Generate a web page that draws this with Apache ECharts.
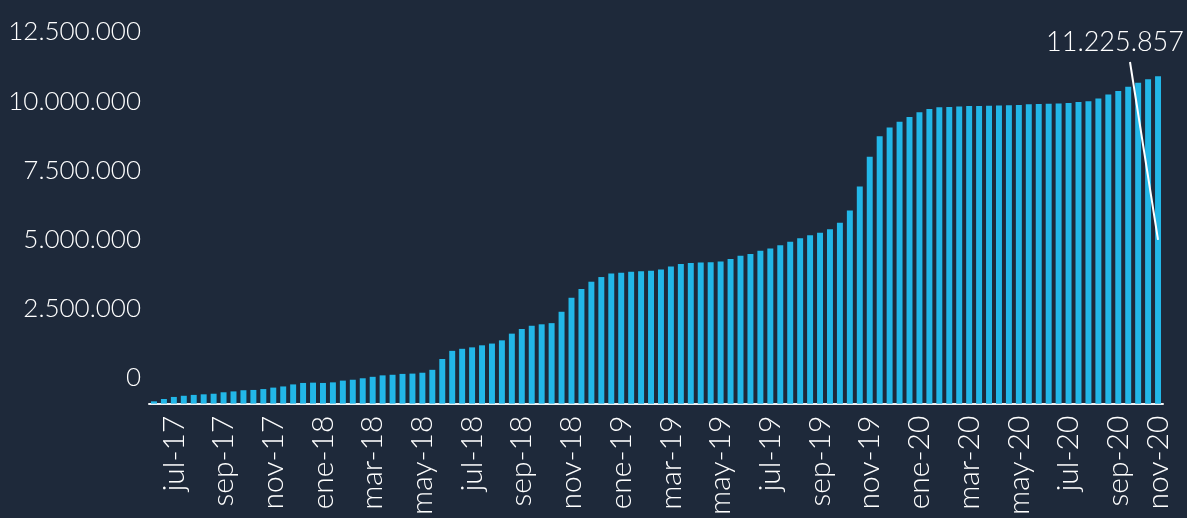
<!DOCTYPE html>
<html>
<head>
<meta charset="utf-8">
<title>Acumulado</title>
<script src="https://cdn.jsdelivr.net/npm/echarts@6/dist/echarts.min.js"></script>
<style>
    html, body { margin: 0; padding: 0; background: #1e293a; }
    #chart { width: 1187px; height: 518px; }
</style>
</head>
<body>
<div id="chart"></div>
<script>
// etiquetas del eje X (cada dos meses) y la barra donde cae cada una
var meses = ["jul-17", "sep-17", "nov-17", "ene-18", "mar-18", "may-18", "jul-18", "sep-18", "nov-18", "ene-19",
    "mar-19", "may-19", "jul-19", "sep-19", "nov-19", "ene-20", "mar-20", "may-20", "jul-20", "sep-20", "nov-20"];
var barraMes = [2, 7, 12, 17, 22, 27, 32, 37, 42, 47, 52, 57, 62, 67, 72, 77, 82, 87, 92, 97, 101];

// valores acumulados por periodo
var acumulado = [
    80000, 160000, 230000, 270000, 300000, 320000, 340000, 390000, 420000, 460000,
    470000, 500000, 550000, 590000, 660000, 710000, 720000, 710000, 730000, 790000,
    820000, 870000, 920000, 970000, 990000, 1020000, 1030000, 1060000, 1160000, 1530000,
    1810000, 1880000, 1930000, 2000000, 2060000, 2170000, 2400000, 2560000, 2670000, 2720000,
    2760000, 3150000, 3630000, 3930000, 4180000, 4340000, 4460000, 4490000, 4520000, 4540000,
    4560000, 4600000, 4700000, 4790000, 4820000, 4840000, 4850000, 4870000, 4960000, 5070000,
    5130000, 5240000, 5320000, 5430000, 5550000, 5670000, 5770000, 5860000, 5980000, 6200000,
    6620000, 7440000, 8460000, 9170000, 9470000, 9660000, 9830000, 9990000, 10100000, 10160000,
    10170000, 10190000, 10200000, 10200000, 10210000, 10220000, 10230000, 10240000, 10260000, 10270000,
    10280000, 10290000, 10310000, 10340000, 10370000, 10460000, 10600000, 10720000, 10860000, 11000000,
    11120000, 11225857
];

var ejeMax = 12500000;
var ejePaso = 2500000;

function miles(v) {
    return String(v).replace(/\B(?=(\d{3})+(?!\d))/g, ".");
}

var page = {
    init: function () {
        var categorias = [];
        for (var i = 0; i < acumulado.length; i++) {
            var k = barraMes.indexOf(i);
            categorias.push(k >= 0 ? meses[k] : "#" + i);
        }
        var ultimo = acumulado.length - 1;
        var datos = acumulado.map(function (v, i) {
            if (i !== ultimo) return v;
            return { value: v, label: { show: true } };
        });

        var chart = echarts.init(document.getElementById("chart"));
        var options = {
            backgroundColor: "#1e293a",
            animation: false,
            grid: [
                { left: 149, right: 24, top: 39, bottom: 114 },
                { left: 149, right: 24, top: 32, bottom: 140 }
            ],
            xAxis: [
                {
                    type: "category",
                    gridIndex: 0,
                    data: categorias,
                    axisLine: { lineStyle: { color: "#eef0f2", width: 2 } },
                    axisTick: { show: false },
                    axisLabel: {
                        interval: 0,
                        rotate: 90,
                        color: "#ffffff",
                        fontSize: 30,
                        fontFamily: "Lato",
                        fontWeight: 300,
                        margin: 12,
                        formatter: function (v) {
                            return v.charAt(0) === "#" ? "" : v;
                        }
                    }
                },
                { type: "category", gridIndex: 1, data: categorias, show: false }
            ],
            yAxis: [
                { type: "value", gridIndex: 0, min: 0, max: ejeMax, show: false },
                {
                    type: "value",
                    gridIndex: 1,
                    min: 0,
                    max: ejeMax,
                    interval: ejePaso,
                    axisLine: { show: false },
                    axisTick: { show: false },
                    splitLine: { show: false },
                    axisLabel: {
                        color: "#ffffff",
                        fontSize: 26,
                        fontFamily: "Lato",
                        fontWeight: 300,
                        margin: 8,
                        formatter: miles
                    }
                }
            ],
            series: [
                {
                    name: "Acumulado",
                    type: "bar",
                    data: datos,
                    barCategoryGap: "40%",
                    itemStyle: { color: "#22b7e8" },
                    label: {
                        show: false,
                        color: "#ffffff",
                        fontSize: 27,
                        fontFamily: "Lato",
                        fontWeight: 300,
                        formatter: function (p) { return miles(p.value); }
                    },
                    labelLayout: function (p) {
                        if (p.dataIndex !== ultimo) return;
                        return { x: 1115, y: 42, align: "center", verticalAlign: "middle" };
                    },
                    markLine: {
                        silent: true,
                        symbol: ["none", "none"],
                        label: { show: false },
                        lineStyle: { color: "#ffffff", width: 2, type: "solid" },
                        data: [
                            [{ x: 1130, y: 62 }, { coord: [ultimo, acumulado[ultimo] / 2] }]
                        ]
                    }
                }
            ]
        };
        chart.setOption(options, true);
    }
};

page.init();
</script>
</body>
</html>
